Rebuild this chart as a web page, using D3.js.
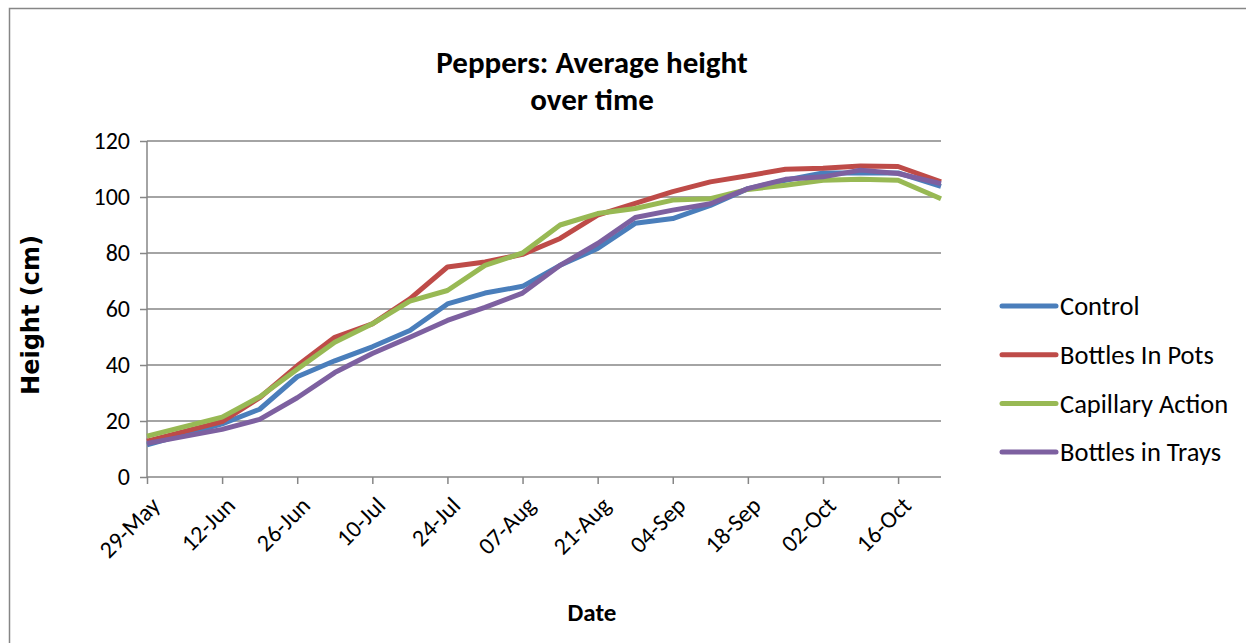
<!DOCTYPE html>
<html>
<head>
<meta charset="utf-8">
<script src="https://cdn.jsdelivr.net/npm/d3@7"></script>
<style>
body { margin:0; background:#fff; }
text { font-family: Carlito, "Liberation Sans", Arial, sans-serif; fill:#000; }
.grid line { stroke:#868686; stroke-width:1.5; }
.axis path, .axis line { stroke:#868686; stroke-width:1.5; }
</style>
</head>
<body>
<svg id="chart"></svg>
<script>
// weekly measurements
var dates = ["2013-05-29","2013-06-12","2013-06-19","2013-06-26","2013-07-03","2013-07-10",
    "2013-07-17","2013-07-24","2013-07-31","2013-08-07","2013-08-14","2013-08-21","2013-08-28",
    "2013-09-04","2013-09-11","2013-09-18","2013-09-25","2013-10-02","2013-10-09","2013-10-16","2013-10-24"]
var control = [11.5,19,24.2,35.8,41.5,46.5,52.3,61.8,65.7,68.1,75.6,81.6,90.6,92.3,97,103,106,108.6,108.6,108.6,103.8]
var bottlesInPots = [12.8,19.8,28.3,39.7,49.9,54.7,63.6,75,76.8,79.5,85.2,93.5,97.7,101.9,105.4,107.6,109.9,110.3,111.1,110.9,105.4]
var capillary = [14.6,21.4,28.6,38.5,48.1,54.7,62.8,66.6,75.6,80,90,94.1,95.9,98.9,99.4,102.7,104.2,106,106.3,106,99.4]
var bottlesInTrays = [12,17,20.6,28.3,37.3,44.1,49.9,55.9,60.6,65.7,75.6,83.4,92.7,95.3,97.6,103,106.3,107.2,109.6,108.4,104.8]
var seriesNames = ["Control","Bottles In Pots","Capillary Action","Bottles in Trays"]
var seriesColors = ["#4a7ebb","#be4b48","#98b954","#7d60a0"]
var tickDates = ["2013-05-29","2013-06-12","2013-06-26","2013-07-10","2013-07-24","2013-08-07",
    "2013-08-21","2013-09-04","2013-09-18","2013-10-02","2013-10-16"]
var yTicks = [0,20,40,60,80,100,120]

var parseDate = d3.utcParse("%Y-%m-%d")
var screen = {width:1246,height:643}
var margins = {left:147,top:141,right:305,bottom:166}
var graph = {
    width:screen.width-margins.left-margins.right,
    height:screen.height-margins.top-margins.bottom
}

var svg = d3.select("#chart")
    .attr("width",screen.width)
    .attr("height",screen.height)

// chart frame
svg.append("path")
    .attr("d","M9.5,"+screen.height+" V8.5 H"+screen.width)
    .attr("fill","none")
    .attr("stroke","#868686")
    .attr("stroke-width",1.5)

var xScale = d3.scaleUtc()
    .domain([parseDate(dates[0]),parseDate(dates[dates.length-1])])
    .range([0,graph.width])

var yScale = d3.scaleLinear()
    .domain([0,120])
    .range([graph.height,0])

var target = svg.append("g")
    .attr("transform","translate("+margins.left+","+margins.top+")")

target.append("g")
    .attr("class","grid")
    .selectAll("line")
    .data(yTicks.filter(function(d){return d>0}))
    .enter()
    .append("line")
    .attr("x1",0)
    .attr("x2",graph.width)
    .attr("y1",function(d){return yScale(d)})
    .attr("y2",function(d){return yScale(d)})

var yAxis = d3.axisLeft(yScale).tickValues(yTicks).tickSize(7).tickPadding(10)
var yg = target.append("g").attr("class","axis").call(yAxis)
yg.select(".domain").attr("d","M0,0V"+graph.height)
yg.selectAll("text").style("font-size","24px").attr("fill","#000")

var xAxis = d3.axisBottom(xScale)
    .tickValues(tickDates.map(parseDate))
    .tickFormat(d3.utcFormat("%d-%b"))
    .tickSize(7)
var xg = target.append("g")
    .attr("class","axis")
    .attr("transform","translate(0,"+graph.height+")")
    .call(xAxis)
xg.select(".domain").attr("d","M0,0H"+graph.width)
xg.selectAll("text")
    .style("font-size","24px")
    .attr("fill","#000")
    .attr("text-anchor","end")
    .attr("transform","translate(14,30) rotate(-45)")
    .attr("dy",0)
    .attr("y",0)

var allSeries = [control,bottlesInPots,capillary,bottlesInTrays]
var line = d3.line()
    .x(function(d,i){return xScale(parseDate(dates[i]))})
    .y(function(d){return yScale(d)})

target.selectAll(".series")
    .data(allSeries)
    .enter()
    .append("path")
    .attr("class","series")
    .attr("d",function(d){return line(d)})
    .attr("fill","none")
    .attr("stroke",function(d,i){return seriesColors[i]})
    .attr("stroke-width",5)
    .attr("stroke-linejoin","round")

// labels
var labels = svg.append("g")
labels.append("text")
    .text("Peppers: Average height")
    .attr("text-anchor","middle")
    .attr("x",592)
    .attr("y",73)
    .style("font-size","31px")
    .style("font-weight","bold")
labels.append("text")
    .text("over time")
    .attr("text-anchor","middle")
    .attr("x",592)
    .attr("y",110)
    .style("font-size","31px")
    .style("font-weight","bold")
labels.append("text")
    .text("Date")
    .attr("text-anchor","middle")
    .attr("x",592)
    .attr("y",621)
    .style("font-size","25px")
    .style("font-weight","bold")
labels.append("text")
    .text("Height (cm)")
    .attr("text-anchor","middle")
    .attr("transform","translate(39,315) rotate(-90)")
    .style("font-family","'DejaVu Sans', Verdana, sans-serif")
    .style("font-size","24px")
    .style("font-weight","bold")

// legend
var legend = svg.append("g")
    .attr("transform","translate(1000,306)")
var entries = legend.selectAll("g")
    .data(seriesNames)
    .enter()
    .append("g")
    .attr("transform",function(d,i){return "translate(0,"+(i*48.7)+")"})
entries.append("line")
    .attr("x1",2)
    .attr("x2",56)
    .attr("stroke",function(d,i){return seriesColors[i]})
    .attr("stroke-width",5)
    .attr("stroke-linecap","round")
entries.append("text")
    .text(function(d){return d})
    .attr("x",60)
    .attr("dy","0.35em")
    .style("font-size","26.5px")
</script>
</body>
</html>
